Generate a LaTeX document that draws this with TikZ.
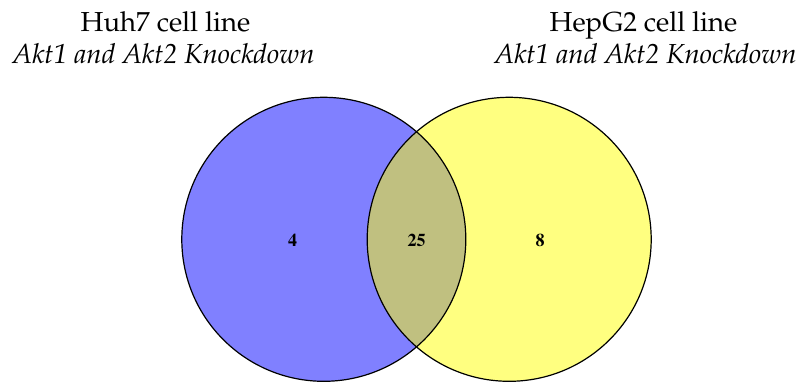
\documentclass[tikz,border=0pt]{standalone}
\IfFileExists{mathpazo.sty}{\usepackage[T1]{fontenc}\usepackage{mathpazo}\newcommand\numfam{\fontfamily{ptm}\selectfont}}{\usepackage{fontspec}\setmainfont{Liberation Serif}\newcommand\numfam{}}
\definecolor{setA}{RGB}{128,128,255}
\definecolor{setB}{RGB}{255,255,128}
\definecolor{setAB}{RGB}{192,192,128}
\tikzset{
  title/.style={anchor=base, inner sep=0pt, font=\fontsize{27.5}{32}\selectfont},
  subtitle/.style={anchor=base, inner sep=0pt, font=\fontsize{27.5}{32}\selectfont\itshape},
  count/.style={inner sep=0pt, font=\numfam\fontsize{18}{20}\selectfont\bfseries},
  outline/.style={draw=black, line width=1.2pt}
}
\begin{document}
\begin{tikzpicture}[x=1pt,y=-1pt]
\useasboundingbox (0,0) rectangle (803,381);
\coordinate (cA) at (323.8,239.3);
\coordinate (cB) at (509.2,239.3);
\fill[setA] (cA) circle (142);
\fill[setB] (cB) circle (142);
\begin{scope}
  \clip (cA) circle (142);
  \fill[setAB] (cB) circle (142);
\end{scope}
\draw[outline] (cA) circle (142);
\draw[outline] (cB) circle (142);
\node[title] (t1) at (165.5,31.5) {Huh7 cell line};
\node[subtitle] (s1) at (163.5,63.3) {Akt1 and Akt2 Knockdown};
\node[title] (t2) at (643.5,31.5) {HepG2 cell line};
\node[subtitle] (s2) at (645.5,63.3) {Akt1 and Akt2 Knockdown};
\node[count] (n1) at (292.7,240) {4};
\node[count] (n2) at (416.7,240) {25};
\node[count] (n3) at (540,240) {8};
\end{tikzpicture}
\end{document}
